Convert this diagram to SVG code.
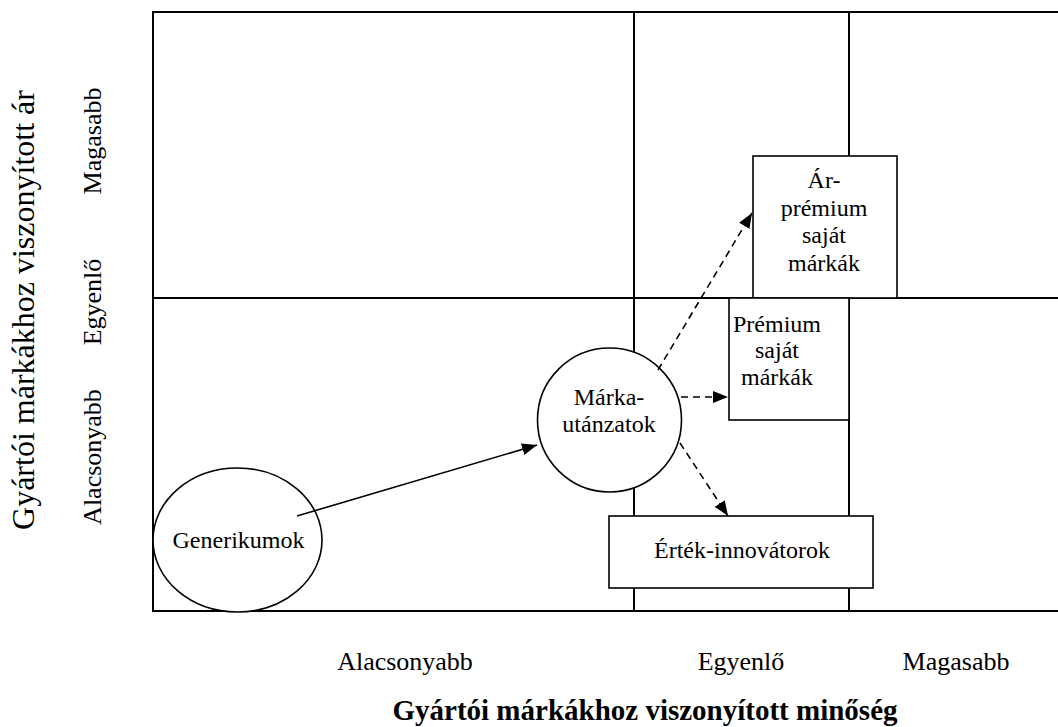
<svg xmlns="http://www.w3.org/2000/svg" width="1058" height="727" viewBox="0 0 1058 727">
<style>
  text { font-family: "Liberation Serif", "Times New Roman", serif; fill: #000; }
  .node { font-size: 24px; text-anchor: middle; }
  .axis { font-size: 26px; text-anchor: middle; }
  .title { font-size: 29px; font-weight: bold; text-anchor: middle; }
  .ytitle { font-size: 32px; text-anchor: middle; }
  .grid { stroke: #000; stroke-width: 2; fill: none; }
  .shape { stroke: #000; stroke-width: 1.6; fill: #fff; }
  .conn { stroke: #000; stroke-width: 1.6; fill: none; }
  .dash { stroke-dasharray: 7 5; }
</style>
<defs>
  <marker id="arrow" markerUnits="userSpaceOnUse" markerWidth="16" markerHeight="12" refX="15" refY="6" orient="auto">
    <path d="M0,0 L15,6 L0,12 z" fill="#000"/>
  </marker>
</defs>
<rect width="1058" height="727" fill="#fff"/>
<g id="grid">
  <line class="grid" x1="153" y1="12" x2="1058" y2="12"/>
  <line class="grid" x1="153" y1="11" x2="153" y2="612"/>
  <line class="grid" x1="153" y1="611" x2="1058" y2="611"/>
  <line class="grid" x1="153" y1="298" x2="1058" y2="298"/>
  <line class="grid" x1="634" y1="12" x2="634" y2="611"/>
  <line class="grid" x1="849" y1="12" x2="849" y2="611"/>
</g>
<g id="axis-labels">
  <text class="ytitle" transform="translate(34,310) rotate(-90)">Gyártói márkákhoz viszonyított ár</text>
  <text class="axis" transform="translate(101,457) rotate(-90)">Alacsonyabb</text>
  <text class="axis" transform="translate(101,302) rotate(-90)">Egyenlő</text>
  <text class="axis" transform="translate(101,141) rotate(-90)">Magasabb</text>
  <text class="axis" x="405" y="670">Alacsonyabb</text>
  <text class="axis" x="741" y="670">Egyenlő</text>
  <text class="axis" x="956" y="670">Magasabb</text>
  <text class="title" x="645" y="720">Gyártói márkákhoz viszonyított minőség</text>
</g>
<g id="node-generikumok">
  <ellipse class="shape" cx="237.5" cy="540" rx="84.5" ry="72"/>
  <text class="node" x="238.5" y="548">Generikumok</text>
</g>
<g id="node-marka-utanzatok">
  <ellipse class="shape" cx="609.5" cy="420" rx="72" ry="72"/>
  <text class="node" x="609" y="405">Márka-</text>
  <text class="node" x="609" y="432">utánzatok</text>
</g>
<g id="node-ar-premium">
  <rect class="shape" x="753" y="156" width="144" height="142"/>
  <text class="node" x="824" y="188">Ár-</text>
  <text class="node" x="824" y="216">prémium</text>
  <text class="node" x="824" y="243">saját</text>
  <text class="node" x="824" y="271">márkák</text>
</g>
<g id="node-premium">
  <rect class="shape" x="729" y="298" width="120" height="122"/>
  <text class="node" x="777" y="332">Prémium</text>
  <text class="node" x="777" y="358">saját</text>
  <text class="node" x="777" y="385">márkák</text>
</g>
<g id="node-ertek-innovatorok">
  <rect class="shape" x="609" y="516" width="264" height="72"/>
  <text class="node" x="742" y="558">Érték-innovátorok</text>
</g>
<g id="connectors">
  <line class="conn" x1="297" y1="516" x2="537" y2="445" marker-end="url(#arrow)"/>
  <line class="conn dash" x1="658" y1="370" x2="752" y2="213" marker-end="url(#arrow)"/>
  <line class="conn dash" x1="681" y1="397" x2="728" y2="397" marker-end="url(#arrow)"/>
  <line class="conn dash" x1="680" y1="443" x2="728" y2="516" marker-end="url(#arrow)"/>
</g>
</svg>
